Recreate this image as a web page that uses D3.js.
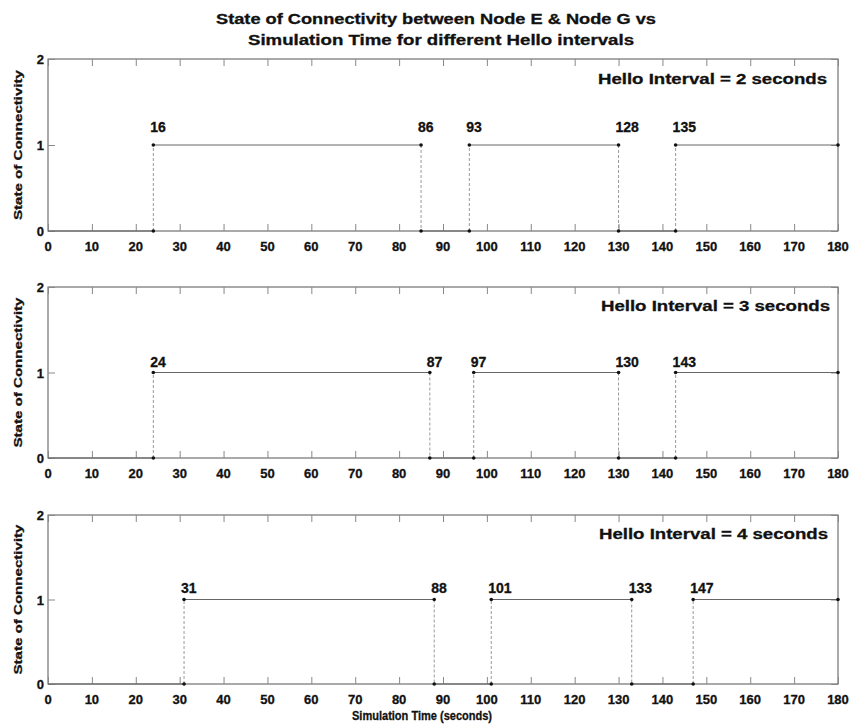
<!DOCTYPE html>
<html><head><meta charset="utf-8">
<script src="https://cdn.jsdelivr.net/npm/d3@7/dist/d3.min.js"></script>
<style>body{margin:0;background:#fff}svg{display:block}text{font-family:"Liberation Sans",Arial,sans-serif;font-weight:bold;fill:#111;stroke:#111;stroke-width:0.3}</style>
</head><body>
<script>
// ---- data ----
const xTicks = [0,10,20,30,40,50,60,70,80,90,100,110,120,130,140,150,160,170,180];
const yTicks = [0,1,2];
const titleLines = ["State of Connectivity between Node E & Node G vs", "Simulation Time for different Hello intervals"];
const xLabel = "Simulation Time (seconds)";
const yLabel = "State of Connectivity";
const intervalLabels = ["Hello Interval = 2 seconds", "Hello Interval = 3 seconds", "Hello Interval = 4 seconds"];
const switchTimes1 = [24, 85, 96, 130, 143];
const switchTimes2 = [24, 87, 97, 130, 143];
const switchTimes3 = [31, 88, 101, 133, 147];
const switchLabels1 = ["16", "86", "93", "128", "135"];
const switchLabels2 = ["24", "87", "97", "130", "143"];
const switchLabels3 = ["31", "88", "101", "133", "147"];
const endTime = 180;

// ---- layout ----
const W = 855, H = 727;
const left = 48, right = 838;
const panels = [
  {top: 59, bottom: 231, times: switchTimes1, labels: switchLabels1, info: intervalLabels[0], infoY: 84, infoRight: 827, labOff: 13, tickY: 251},
  {top: 287, bottom: 458, times: switchTimes2, labels: switchLabels2, info: intervalLabels[1], infoY: 311, infoRight: 830, labOff: 6, tickY: 478},
  {top: 515, bottom: 684, times: switchTimes3, labels: switchLabels3, info: intervalLabels[2], infoY: 539, infoRight: 828, labOff: 7, tickY: 704}
];

const svg = d3.select("body").append("svg").attr("width", W).attr("height", H);

svg.append("text").attr("x", 436).attr("y", 24).attr("text-anchor", "middle")
  .attr("font-size", 14).attr("textLength", 440).attr("lengthAdjust", "spacingAndGlyphs").text(titleLines[0]);
svg.append("text").attr("x", 441).attr("y", 45).attr("text-anchor", "middle")
  .attr("font-size", 14).attr("textLength", 386).attr("lengthAdjust", "spacingAndGlyphs").text(titleLines[1]);

const x = d3.scaleLinear().domain([0, endTime]).range([left, right]);

panels.forEach((p, i) => {
  const y = d3.scaleLinear().domain([0, 2]).range([p.bottom, p.top]);
  const g = svg.append("g");

  // step points
  const pts = [[0, 0]];
  let s = 0;
  p.times.forEach(t => { pts.push([t, s]); s = 1 - s; pts.push([t, s]); });
  pts.push([endTime, s]);

  // box
  g.append("rect").attr("x", left).attr("y", p.top).attr("width", right - left).attr("height", p.bottom - p.top)
    .attr("fill", "none").attr("stroke", "#555").attr("stroke-width", 1);

  // axes (ticks inward)
  const xb = g.append("g").attr("transform", `translate(0,${p.bottom})`)
    .call(d3.axisBottom(x).tickValues(xTicks).tickSize(-7).tickFormat(""));
  const xt = g.append("g").attr("transform", `translate(0,${p.top})`)
    .call(d3.axisTop(x).tickValues(xTicks).tickSize(-7).tickFormat(""));
  const yl = g.append("g").attr("transform", `translate(${left},0)`)
    .call(d3.axisLeft(y).tickValues(yTicks).tickSize(-7).tickFormat(""));
  const yr = g.append("g").attr("transform", `translate(${right},0)`)
    .call(d3.axisRight(y).tickValues(yTicks).tickSize(-7).tickFormat(""));
  [xb, xt, yl, yr].forEach(a => { a.select(".domain").remove(); a.selectAll("line").attr("stroke", "#888"); });

  // tick labels
  g.selectAll(".xl").data(xTicks).enter().append("text")
    .attr("x", d => x(d)).attr("y", p.tickY).attr("text-anchor", "middle").attr("font-size", 13).text(d => d);
  g.selectAll(".yl").data(yTicks).enter().append("text")
    .attr("x", left - 4).attr("y", d => y(d) + 5).attr("text-anchor", "end").attr("font-size", 13).text(d => d);

  // y label
  const cy = (p.top + p.bottom) / 2;
  g.append("text").attr("transform", `translate(22,${cy}) rotate(-90)`).attr("text-anchor", "middle")
    .attr("font-size", 11.5).attr("textLength", 150).attr("lengthAdjust", "spacingAndGlyphs").text(yLabel);

  // step line: horizontal and vertical segments
  for (let k = 0; k < pts.length - 1; k++) {
    const a = pts[k], b = pts[k + 1];
    const vert = a[0] === b[0];
    g.append("line").attr("x1", x(a[0])).attr("y1", y(a[1])).attr("x2", x(b[0])).attr("y2", y(b[1]))
      .attr("stroke", vert ? "#999" : "#666").attr("stroke-width", 1)
      .attr("stroke-dasharray", vert ? "3,2" : null);
  }
  g.selectAll(".pt").data(pts.slice(1)).enter().append("circle")
    .attr("cx", d => x(d[0])).attr("cy", d => y(d[1])).attr("r", 1.8).attr("fill", "#111");

  // switch labels
  g.selectAll(".sl").data(p.times).enter().append("text")
    .attr("x", d => x(d) - 3).attr("y", y(1) - p.labOff).attr("font-size", 14)
    .text((d, j) => p.labels[j]);

  // interval label
  g.append("text").attr("x", p.infoRight).attr("y", p.infoY).attr("text-anchor", "end")
    .attr("font-size", 14.5).attr("textLength", 229).attr("lengthAdjust", "spacingAndGlyphs").text(p.info);
});

svg.append("text").attr("x", 422).attr("y", 720).attr("text-anchor", "middle")
  .attr("font-size", 12.5).attr("textLength", 140).attr("lengthAdjust", "spacingAndGlyphs").text(xLabel);
</script>
</body></html>
